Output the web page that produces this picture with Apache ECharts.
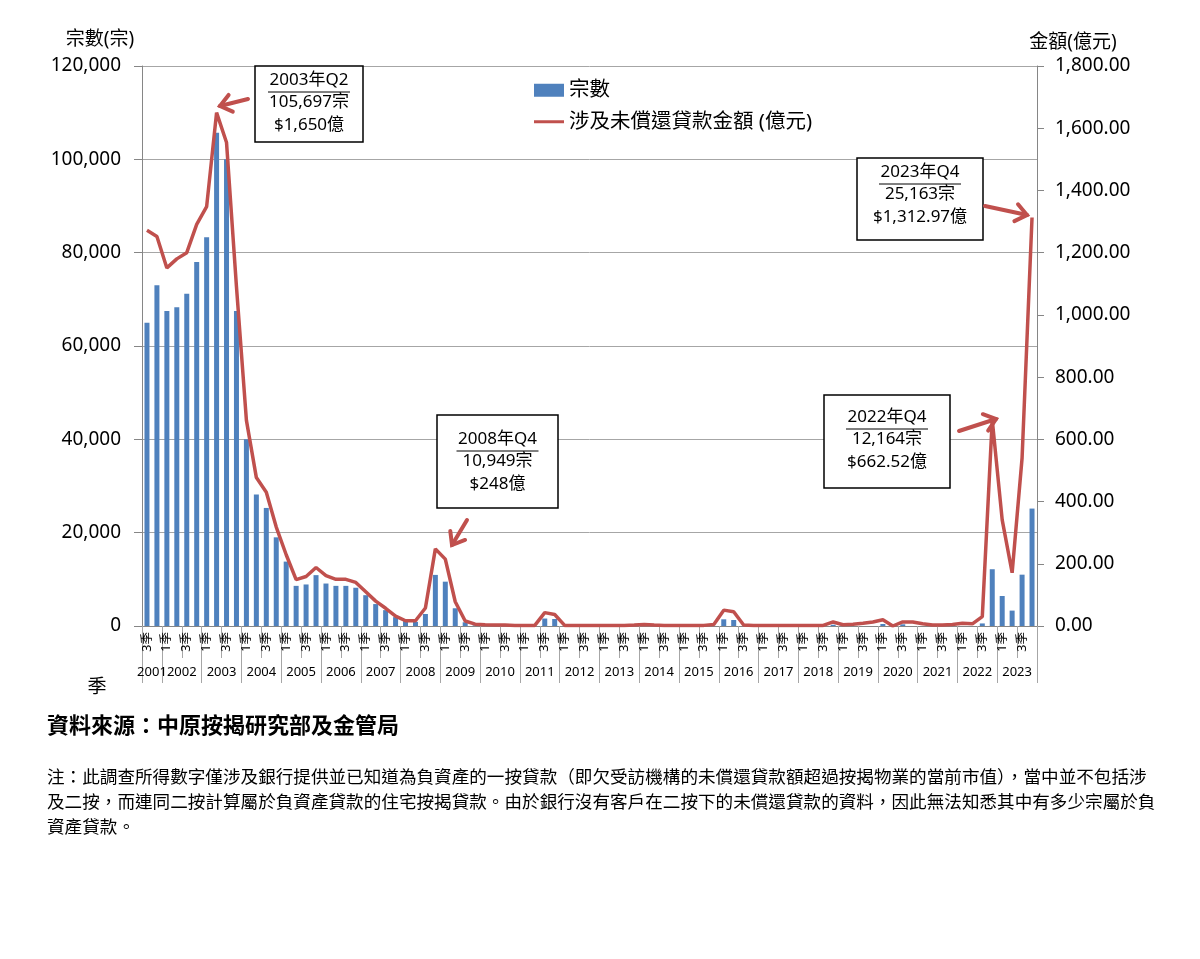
<!DOCTYPE html>
<html>
<head>
<meta charset="utf-8">
<title>負資產宗數及金額</title>
<script src="https://cdn.jsdelivr.net/npm/echarts@6/dist/echarts.min.js"></script>
<style>
  html, body { margin: 0; padding: 0; background: #fff; }
  #chart { width: 1200px; height: 959px; }
</style>
</head>
<body>
<div id="chart"></div>
<script>
// 年份 (2001 年由第三季開始)
var years = [2001, 2002, 2003, 2004, 2005, 2006, 2007, 2008, 2009, 2010, 2011, 2012,
             2013, 2014, 2015, 2016, 2017, 2018, 2019, 2020, 2021, 2022, 2023];
var firstQuarter = 3;
var quarterNames = ["1季", "2季", "3季", "4季"];

// 宗數 (每季)
var caseCounts = [
  65000, 73000,
  67500, 68300, 71200, 78000,
  83300, 105697, 100000, 67500,
  40000, 28200, 25300, 19000,
  13800, 8600, 8900, 10900,
  9100, 8600, 8600, 8200,
  6600, 4700, 3400, 1900,
  1050, 880, 2570, 10949,
  9500, 3800, 800, 150,
  0, 0, 0, 0,
  0, 0, 1600, 1500,
  0, 0, 0, 0,
  0, 0, 0, 0,
  0, 0, 0, 0,
  0, 0, 0, 0,
  1433, 1290, 0, 0,
  0, 0, 0, 0,
  0, 0, 0, 270,
  0, 0, 0, 0,
  430, 0, 360, 0,
  0, 0, 0, 0,
  0, 0, 550, 12164,
  6430, 3300, 11000, 25163
];

// 涉及未償還貸款金額 (億元)
var loanAmounts = [
  1272, 1252,
  1151, 1180, 1200, 1291,
  1348, 1650, 1554, 1090,
  661, 477, 430, 318,
  229, 149, 159, 188,
  162, 150, 150, 140,
  110, 80, 57, 32,
  17, 17, 58, 248,
  215, 78, 16, 6,
  4, 3, 3, 2,
  2, 2, 43, 37,
  2, 2, 2, 2,
  2, 2, 2, 3,
  5, 3, 2, 2,
  2, 2, 2, 5,
  51, 46, 3, 2,
  2, 2, 2, 2,
  2, 2, 2, 13,
  4, 6, 9, 13,
  20, 0, 13, 13,
  7, 3, 3, 5,
  9, 7, 30, 662.52,
  341, 171, 540, 1312.97
];

var FONT = '"Noto Sans", "Noto Sans CJK TC", sans-serif';
var CJK = '"Noto Sans CJK TC", sans-serif';
var RED = "#C0504D";

// 類別 (年 + 季)
var categories = [];
var yearTicks = [0];      // 年份分隔線
var yearCenters = [];     // 年份標籤位置
var yearAt = {};
var pos = 0;
years.forEach(function (y, k) {
  var start = pos;
  for (var q = (k === 0 ? firstQuarter : 1); q <= 4; q++) {
    categories.push(y + " " + quarterNames[q - 1]);
    pos++;
  }
  yearTicks.push(pos);
  yearCenters.push((start + pos) / 2);
  yearAt[(start + pos) / 2] = String(y);
});
var pairTicks = [];
for (var i = 0; i <= categories.length; i += 2) pairTicks.push(i);

function makeNote(left, top, w, h, textTop, lines) {
  var cx = left + w / 2;
  var els = [{
    type: "rect", z: 100,
    shape: { x: left, y: top, width: w, height: h },
    style: { fill: "#fff", stroke: "#000", lineWidth: 1.5 }
  }];
  lines.forEach(function (t, k) {
    els.push({
      type: "text", z: 101, x: cx, y: textTop + k * 22.5,
      style: { text: t, fill: "#000", font: "17px " + FONT,
               align: "center", verticalAlign: "middle", textAlign: "center", textVerticalAlign: "middle" }
    });
  });
  els.push({
    type: "line", z: 101,
    shape: { x1: cx - 41, y1: textTop + 12, x2: cx + 41, y2: textTop + 12 },
    style: { stroke: "#000", lineWidth: 1 }
  });
  return els;
}

function makeArrow(x1, y1, x2, y2) {
  var dx = x2 - x1, dy = y2 - y1, len = Math.sqrt(dx * dx + dy * dy);
  var ux = dx / len, uy = dy / len, a = 38 * Math.PI / 180, L = 14;
  function arm(s) {
    var c = Math.cos(s * a), n = Math.sin(s * a);
    return [x2 - L * (ux * c - uy * n), y2 - L * (ux * n + uy * c)];
  }
  var st = { stroke: RED, lineWidth: 4, lineCap: "round", lineJoin: "miter", fill: null };
  return [
    { type: "line", z: 102, shape: { x1: x1, y1: y1, x2: x2, y2: y2 }, style: st },
    { type: "polyline", z: 102, shape: { points: [arm(1), [x2, y2], arm(-1)] }, style: st }
  ];
}

function label(x, y, text, font, align) {
  return {
    type: "text", z: 100, x: x, y: y,
    style: { text: text, fill: "#000", font: font, align: align || "center", textAlign: align || "center",
             verticalAlign: "middle", textVerticalAlign: "middle" }
  };
}

var notes = [].concat(
  makeNote(255, 66, 108, 76, 80, ["2003年Q2", "105,697宗", "$1,650億"]),
  makeNote(437, 415, 121, 93, 439, ["2008年Q4", "10,949宗", "$248億"]),
  makeNote(857, 158, 126, 82, 172, ["2023年Q4", "25,163宗", "$1,312.97億"]),
  makeNote(824, 395, 126, 93, 417, ["2022年Q4", "12,164宗", "$662.52億"]),
  makeArrow(248, 99, 220, 106),
  makeArrow(467, 520, 452, 545),
  makeArrow(985, 206, 1027, 215),
  makeArrow(959, 431, 996, 419)
);

var noteText = "注：此調查所得數字僅涉及銀行提供並已知道為負資產的一按貸款（即欠受訪機構的未償還貸款額超過按揭物業的當前市值），當中並不包括涉\n" +
  "及二按，而連同二按計算屬於負資產貸款的住宅按揭貸款。由於銀行沒有客戶在二按下的未償還貸款的資料，因此無法知悉其中有多少宗屬於負\n" +
  "資產貸款。";

// 圖例中的線: 細橫條 (上下兩個空點撐開高度)
var lineIcon = "path://M0,0L0,0M0,13L0,13M0,5H30V8H0Z";

var chart = echarts.init(document.getElementById("chart"));
var option = {
  backgroundColor: "#fff",
  animation: false,
  textStyle: { fontFamily: FONT },
  grid: { left: 142, right: 163, top: 66, bottom: 333 },
  legend: {
    orient: "vertical", left: 534, top: 80, padding: 0,
    itemWidth: 30, itemHeight: 13, itemGap: 11,
    textStyle: { fontSize: 20.5, color: "#000", fontFamily: FONT },
    data: [
      { name: "宗數", icon: "rect" },
      { name: "涉及未償還貸款金額 (億元)", icon: lineIcon, itemStyle: { color: RED } }
    ]
  },
  xAxis: [
    {
      type: "category", data: categories, position: "bottom", boundaryGap: true,
      axisLine: { onZero: false, lineStyle: { color: "#868686", width: 1 } },
      axisTick: { show: false },
      axisLabel: {
        interval: function (idx) { return idx % 2 === 0; },
        rotate: 90, margin: 6, fontSize: 12.5, color: "#000", fontFamily: FONT,
        formatter: function (v) { return v.split(" ")[1]; }
      },
      splitLine: { show: false }
    },
    {
      type: "value", min: 0, max: categories.length, position: "bottom",
      axisLine: { show: false, onZero: false }, splitLine: { show: false },
      axisTick: { show: true, customValues: pairTicks, length: 32, lineStyle: { color: "#a6a6a6" } },
      axisLabel: { show: false }
    },
    {
      type: "value", min: 0, max: categories.length, position: "bottom",
      axisLine: { show: false, onZero: false }, splitLine: { show: false },
      axisTick: { show: true, customValues: yearTicks, length: 57, lineStyle: { color: "#a6a6a6" } },
      axisLabel: {
        customValues: yearCenters, margin: 40, fontSize: 13, color: "#000", fontFamily: FONT,
        formatter: function (v) { return yearAt[v] || ""; }
      }
    }
  ],
  yAxis: [
    {
      type: "value", min: 0, max: 120000, interval: 20000, position: "left",
      axisLine: { show: true, onZero: false, lineStyle: { color: "#868686" } },
      axisTick: { show: true, length: 8, lineStyle: { color: "#868686" } },
      axisLabel: {
        margin: 21, fontSize: 19, color: "#000", fontFamily: FONT,
        formatter: function (v) { return v.toLocaleString("en-US"); }
      },
      splitLine: { show: true, lineStyle: { color: "#a6a6a6" } }
    },
    {
      type: "value", min: 0, max: 1800, interval: 200, position: "right",
      axisLine: { show: true, onZero: false, lineStyle: { color: "#868686" } },
      axisTick: { show: true, length: 7, lineStyle: { color: "#868686" } },
      axisLabel: {
        margin: 18, fontSize: 19, color: "#000", fontFamily: FONT,
        formatter: function (v) { return v.toLocaleString("en-US", { minimumFractionDigits: 2, maximumFractionDigits: 2 }); }
      },
      splitLine: { show: false }
    }
  ],
  series: [
    {
      name: "宗數", type: "bar", xAxisIndex: 0, yAxisIndex: 0,
      data: caseCounts, barWidth: 5,
      itemStyle: { color: "#4F81BD" }
    },
    {
      name: "涉及未償還貸款金額 (億元)", type: "line", xAxisIndex: 0, yAxisIndex: 1,
      data: loanAmounts, symbol: "none", showSymbol: false, z: 3,
      lineStyle: { color: RED, width: 3.5 },
      itemStyle: { color: RED }
    }
  ],
  graphic: {
    elements: [
      label(100, 40, "宗數(宗)", "19px " + FONT),
      label(1073, 43, "金額(億元)", "19px " + FONT),
      label(97, 688, "季", "19px " + FONT),
      label(47, 725, "資料來源：中原按揭研究部及金管局", "bold 22px " + CJK, "left"),
      {
        type: "text", z: 100, x: 47, y: 764,
        style: { text: noteText, fill: "#000", font: "17.6px " + CJK, lineHeight: 25,
                 align: "left", textAlign: "left", verticalAlign: "top", textVerticalAlign: "top" }
      }
    ].concat(notes)
  }
};
chart.setOption(option);
</script>
</body>
</html>
